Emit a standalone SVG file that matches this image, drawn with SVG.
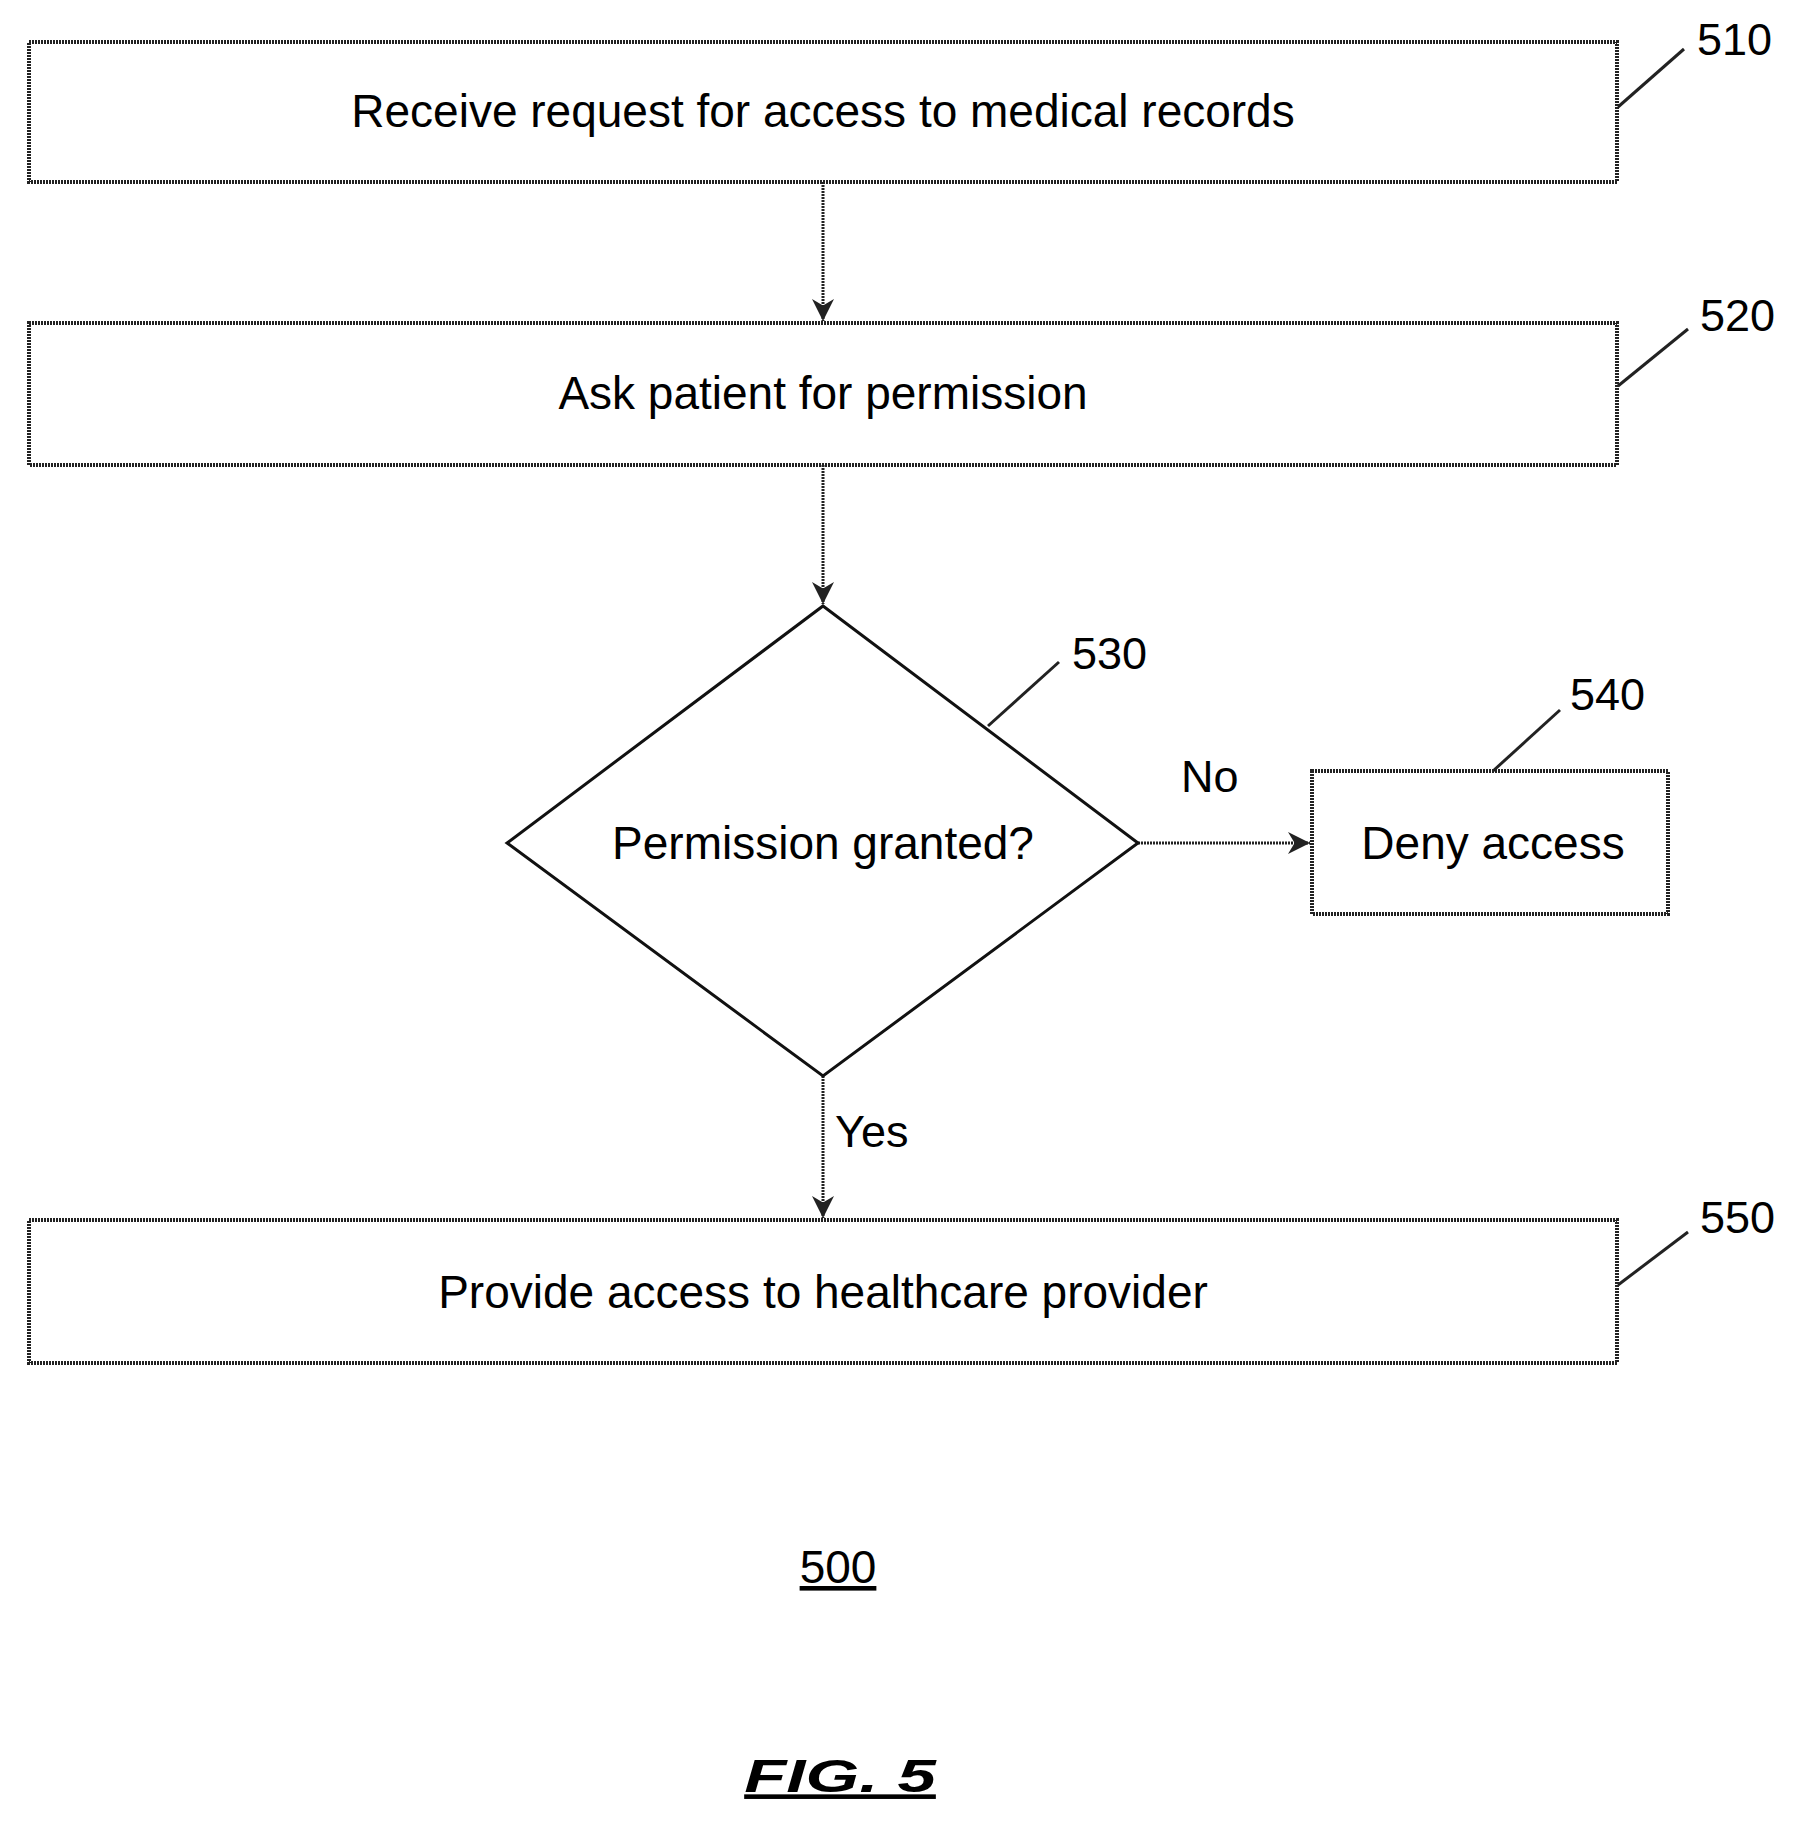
<svg xmlns="http://www.w3.org/2000/svg" width="1800" height="1822" viewBox="0 0 1800 1822">
<defs>
<marker id="ah" viewBox="0 0 10 10" refX="10" refY="5" markerWidth="22" markerHeight="22" markerUnits="userSpaceOnUse" orient="auto"><path d="M0,0 L10,5 L0,10 L3,5 z" fill="#222"/></marker>
<style>
.box{fill:#fff;stroke:#222;stroke-width:4;stroke-dasharray:2 1}
.t{font-family:"Liberation Sans",Arial,sans-serif;font-size:46px;fill:#000;text-anchor:middle}
.n{font-family:"Liberation Sans",Arial,sans-serif;font-size:45px;fill:#000}
.c{stroke:#222;stroke-width:3;fill:none;stroke-dasharray:2 1}
.l{stroke:#222;stroke-width:3;fill:none}
</style>
</defs>
<rect width="1800" height="1822" fill="#fff"/>
<g id="connectors">
<path class="c" d="M823,182 V321" marker-end="url(#ah)"/>
<path class="c" d="M823,465 V604" marker-end="url(#ah)"/>
<path class="c" d="M1138,843 H1310" marker-end="url(#ah)"/>
<path class="c" d="M823,1076 V1218" marker-end="url(#ah)"/>
<text class="n" x="1181" y="792" font-size="44">No</text>
<text class="n" x="835" y="1147" font-size="48">Yes</text>
</g>
<g id="n510"><rect class="box" x="29" y="42" width="1588" height="140"/><text class="t" x="823" y="127">Receive request for access to medical records</text><path class="l" d="M1618,107 L1684,49"/><text class="n" x="1697" y="55">510</text></g>
<g id="n520"><rect class="box" x="29" y="323" width="1588" height="142"/><text class="t" x="823" y="409">Ask patient for permission</text><path class="l" d="M1618,386 L1688,329"/><text class="n" x="1700" y="331">520</text></g>
<g id="n530"><path d="M823,606 L1138,843 L823,1076 L507,843 Z" fill="#fff" stroke="#111" stroke-width="3"/><text class="t" x="823" y="859">Permission granted?</text><path class="l" d="M988,726 L1059,662"/><text class="n" x="1072" y="669">530</text></g>
<g id="n540"><rect class="box" x="1312" y="771" width="356" height="143"/><text class="t" x="1493" y="859">Deny access</text><path class="l" d="M1493,771 L1560,710"/><text class="n" x="1570" y="710">540</text></g>
<g id="n550"><rect class="box" x="29" y="1220" width="1588" height="143"/><text class="t" x="823" y="1308">Provide access to healthcare provider</text><path class="l" d="M1618,1285 L1688,1232"/><text class="n" x="1700" y="1233">550</text></g>
<g id="labels">
<text class="t" x="838" y="1583" font-size="47" text-decoration="underline">500</text>
<text class="t" transform="translate(840,1792) scale(1.5,1)" x="0" y="0" font-size="80" font-weight="bold" font-style="italic" text-decoration="underline">FIG. 5</text>
</g>
</svg>
